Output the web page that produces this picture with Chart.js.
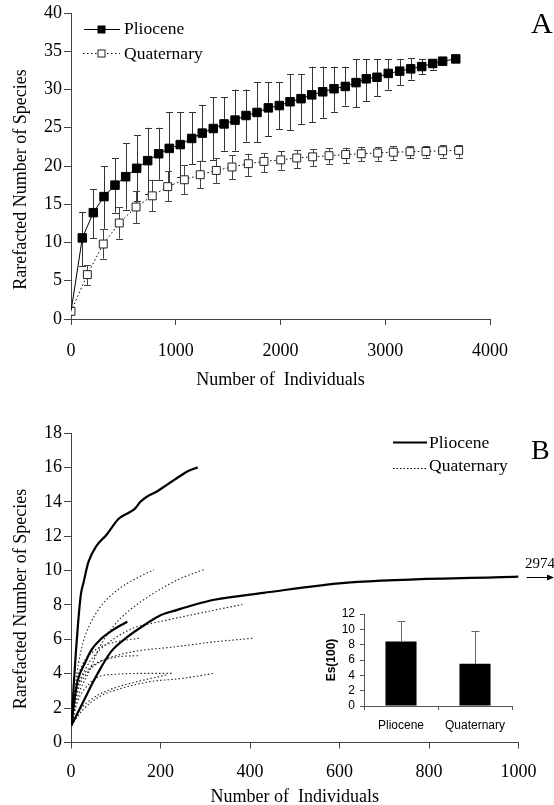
<!DOCTYPE html>
<html><head><meta charset="utf-8">
<script src="https://cdn.jsdelivr.net/npm/chart.js@4.4.1/dist/chart.umd.min.js"></script>
<style>
body{margin:0;background:#fff;}
#wrap{position:relative;width:554px;height:805px;overflow:hidden;font-family:"Liberation Serif",serif;color:#000;background:#fff;}
canvas{position:absolute;}
.t{position:absolute;white-space:nowrap;line-height:1;}
svg{position:absolute;left:0;top:0;}
</style></head><body>
<div id="wrap">
<canvas id="cA" width="554" height="400" style="left:0;top:0"></canvas>
<canvas id="cB" width="554" height="412" style="left:0;top:400px"></canvas>
<canvas id="cI" width="230" height="140" style="left:300px;top:600px"></canvas>
<svg width="554" height="805">
  <line x1="84" y1="29.5" x2="120" y2="29.5" stroke="#000" stroke-width="1"/>
  <rect x="97.5" y="25.5" width="8" height="8" fill="#000"/>
  <line x1="83" y1="53.5" x2="120" y2="53.5" stroke="#000" stroke-width="1" stroke-dasharray="1.5,2.5"/>
  <rect x="98" y="50" width="7" height="7" fill="#fff" stroke="#222" stroke-width="1"/>
  <line x1="393" y1="442.5" x2="427" y2="442.5" stroke="#000" stroke-width="2"/>
  <line x1="393" y1="468.5" x2="427" y2="468.5" stroke="#000" stroke-width="1" stroke-dasharray="1.5,2"/>
</svg>
<div class="t" style="left:124px;top:20.4px;font-size:17.5px">Pliocene</div>
<div class="t" style="left:124px;top:45px;font-size:17.5px">Quaternary</div>
<div class="t" style="left:429px;top:433.6px;font-size:17.5px">Pliocene</div>
<div class="t" style="left:429px;top:457px;font-size:17.5px">Quaternary</div>
<div class="t" style="left:531px;top:8px;font-size:30px">A</div>
<div class="t" style="left:531px;top:436px;font-size:28px">B</div>
<div class="t" style="left:525px;top:555.5px;font-size:15px">2974</div>
</div>
<script>
// ---------- Panel A data ----------
const plioX = [0, 108, 213, 315, 420, 522, 627, 732, 837, 938, 1043, 1152, 1253, 1358, 1461, 1566, 1671, 1776, 1884, 1989, 2091, 2196, 2298, 2403, 2511, 2619, 2721, 2819, 2921, 3029, 3138, 3243, 3348, 3453, 3548, 3673];
const plioY = [1, 10.6, 13.9, 16.0, 17.5, 18.6, 19.7, 20.7, 21.6, 22.3, 22.8, 23.6, 24.3, 24.9, 25.5, 26.0, 26.6, 27.0, 27.6, 27.9, 28.4, 28.8, 29.3, 29.7, 30.1, 30.4, 30.9, 31.4, 31.6, 32.1, 32.4, 32.7, 33.0, 33.4, 33.7, 34.0];
const plioHi = [null, 14, 17, 20, 21, 23, 24, 25, 25, 27, 27, 27, 28, 29, 29, 30, 30, 31, 31, 31, 32, 32, 33, 33, 33, 33, 34, 34, 34, 34, 34, 34.1, 34.0, 33.9, null, null];
const plioLo = [null, 6.9, 10.6, 11.8, 13.9, 14.3, 15.4, 16.4, 18.2, 17.6, 18.6, 20.2, 20.6, 20.8, 22.0, 22.0, 23.2, 23.1, 23.9, 24.8, 24.65, 25.5, 25.7, 26.3, 27.1, 27.9, 27.7, 28.5, 29.1, 30.0, 30.6, 31.3, 32.0, 32.6, null, null];

const quatX = [0, 156, 308, 461, 621, 776, 923, 1082, 1234, 1387, 1537, 1693, 1842, 2002, 2155, 2307, 2463, 2622, 2771, 2928, 3077, 3236, 3389, 3548, 3701];
const quatY = [1, 5.8, 9.8, 12.55, 14.64, 16.1, 17.3, 18.2, 18.86, 19.42, 19.87, 20.3, 20.6, 20.8, 21.05, 21.2, 21.35, 21.5, 21.6, 21.7, 21.8, 21.87, 21.9, 22.0, 22.04];
const quatHi = [null, 7.0, 11.7, 14.6, 16.7, 18.2, 19.3, 20.1, 20.7, 21.0, 21.4, 21.6, 21.7, 21.9, 22.1, 22.2, 22.3, 22.4, 22.5, 22.5, 22.6, 22.6, 22.6, 22.7, 22.7];
const quatLo = [null, 4.4, 7.9, 10.5, 12.5, 14.1, 15.4, 16.3, 17.1, 17.8, 18.3, 18.7, 19.2, 19.5, 19.7, 20.0, 20.3, 20.4, 20.6, 20.7, 20.8, 21.0, 21.1, 21.1, 21.1];

// ---------- Panel B data (individual samples) ----------
const plioCurve1X = [1, 6, 11, 16, 22, 28, 39, 56, 80, 106, 128, 143, 155, 170, 192, 215, 244, 263, 283];
const plioCurve1Y = [1, 3.3, 5.3, 7.0, 8.6, 9.3, 10.5, 11.4, 12.1, 13.0, 13.35, 13.6, 14.0, 14.3, 14.6, 15.0, 15.5, 15.8, 16.0];
const plioCurve2X = [1, 28, 49, 68, 90, 124, 168, 200, 236, 274, 320, 430, 618, 1000];
const plioCurve2Y = [1, 2.4, 3.5, 4.4, 5.3, 6.1, 6.9, 7.4, 7.7, 8.0, 8.3, 8.7, 9.3, 9.65];
const plioCurve3X = [1, 9, 15, 32, 46, 66, 94, 110, 126];
const plioCurve3Y = [1, 2.7, 3.6, 4.67, 5.4, 6.0, 6.55, 6.8, 7.02];

const quatCurve1X = [1, 13, 28, 41, 63, 85, 119, 150, 185];
const quatCurve1Y = [1, 4.0, 5.9, 6.8, 7.8, 8.45, 9.15, 9.6, 10.05];
const quatCurve2X = [1, 13, 39, 65, 95, 122, 167, 212, 250, 297];
const quatCurve2Y = [1, 2.5, 4.05, 5.6, 6.76, 7.5, 8.38, 9.1, 9.6, 10.05];
const quatCurve3X = [1, 13, 35, 65, 100, 138, 197, 286, 383];
const quatCurve3Y = [1, 3.0, 4.4, 5.4, 6.1, 6.64, 7.02, 7.51, 8.03];
const quatCurve4X = [1, 13, 35, 65, 93, 138, 234, 323, 405];
const quatCurve4Y = [1, 2.8, 4.0, 4.7, 4.99, 5.28, 5.57, 5.86, 6.06];
const quatCurve5X = [1, 10, 25, 50, 80, 110, 152];
const quatCurve5Y = [1, 3.2, 4.5, 5.3, 5.7, 5.9, 6.06];
const quatCurve6X = [1, 10, 25, 50, 80, 110, 152];
const quatCurve6Y = [1, 2.8, 3.8, 4.5, 4.85, 5.0, 5.05];
const quatCurve7X = [1, 15, 40, 63, 100, 175, 227];
const quatCurve7Y = [1, 2.4, 3.4, 3.83, 3.97, 4.02, 4.02];
const quatCurve8X = [1, 20, 45, 63, 100, 150, 212];
const quatCurve8Y = [1, 1.9, 2.5, 2.8, 3.2, 3.55, 3.92];
const quatCurve9X = [1, 26, 63, 100, 175, 249, 320];
const quatCurve9Y = [1, 1.89, 2.66, 3.05, 3.53, 3.73, 4.02];

// ---------- Inset data ----------
const esCats = ['Pliocene', 'Quaternary'];
const esVals = [8.4, 5.5];
const esHi = [11.1, 9.8];

// ---------- Tick settings ----------
const axisATicksX = [0, 4000, 1000];
const axisATicksY = [0, 40, 5];
const axisBTicksX = [0, 1000, 200];
const axisBTicksY = [0, 18, 2];
const insetTicksY = [0, 12, 2];

const serif = "'Liberation Serif', 'Times New Roman', serif";
const sans = "'Liberation Sans', Arial, sans-serif";
const pts = (xs, ys) => xs.map((x, i) => ({x, y: ys[i]}));

const errorBarPlugin = {
  id: 'errorBars',
  beforeDatasetsDraw(chart) {
    const {ctx} = chart;
    const xs = chart.scales.x, ys = chart.scales.y;
    const sets = [[plioX, plioHi, plioLo, '#333'], [quatX, quatHi, quatLo, '#444']];
    ctx.save();
    ctx.lineWidth = 1;
    for (const [X, H, L, c] of sets) {
      ctx.strokeStyle = c;
      X.forEach((xv, i) => {
        if (H[i] == null) return;
        const px = Math.round(xs.getPixelForValue(xv)) + 0.5;
        const yt = ys.getPixelForValue(H[i]);
        const yb = ys.getPixelForValue(L[i]);
        ctx.beginPath();
        ctx.moveTo(px, yt); ctx.lineTo(px, yb);
        ctx.moveTo(px - 3.5, Math.round(yt) + 0.5); ctx.lineTo(px + 3.5, Math.round(yt) + 0.5);
        ctx.moveTo(px - 3.5, Math.round(yb) + 0.5); ctx.lineTo(px + 3.5, Math.round(yb) + 0.5);
        ctx.stroke();
      });
    }
    ctx.restore();
  }
};

function scaleOpts(range, fit, isX, title, titlePad, tickPad, tickLen) {
  return {
    type: 'linear', min: range[0], max: range[1],
    afterFit: s => { if (isX) s.height = fit; else s.width = fit; },
    ticks: {stepSize: range[2], color: '#000', font: {family: serif, size: 18}, padding: tickPad, maxRotation: 0, autoSkip: false, callback: v => String(v)},
    grid: {drawOnChartArea: false, tickLength: tickLen, color: '#444', lineWidth: 1},
    border: {color: '#444', width: 1},
    title: {display: true, text: title, color: '#000', font: {family: serif, size: 18}, padding: titlePad}
  };
}

new Chart(document.getElementById('cA'), {
  type: 'scatter',
  data: {datasets: [
    {label: 'Pliocene', data: pts(plioX, plioY), showLine: true, borderColor: '#000', borderWidth: 1,
     pointStyle: 'rect', pointRadius: plioX.map((x, i) => i === 0 ? 0 : 6), pointBackgroundColor: '#000', pointBorderColor: '#000', pointBorderWidth: 1},
    {label: 'Quaternary', data: pts(quatX, quatY), showLine: true, borderColor: '#000', borderWidth: 1, borderDash: [1.5, 2.5],
     pointStyle: 'rect', pointRadius: 5.6, pointBackgroundColor: '#fff', pointBorderColor: '#222', pointBorderWidth: 1}
  ]},
  options: {
    responsive: false, animation: false, events: [],
    layout: {padding: {left: 0, top: 13, right: 64, bottom: 0}},
    plugins: {legend: {display: false}, tooltip: {enabled: false}},
    scales: {
      x: scaleOpts(axisATicksX, 81, true, 'Number of  Individuals', {bottom: 9}, 15, 6),
      y: scaleOpts(axisATicksY, 71, false, 'Rarefacted Number of Species      ', {top: 10}, 2, 7)
    }
  },
  plugins: [errorBarPlugin]
});

const arrowPlugin = {
  id: 'arrow',
  afterDraw(chart) {
    const {ctx, chartArea} = chart;
    const y = Math.round(chart.scales.y.getPixelForValue(plioCurve2Y[plioCurve2Y.length - 1])) + 0.5;
    const x0 = chartArea.right + 8, x1 = 554;
    ctx.save();
    ctx.strokeStyle = '#000'; ctx.fillStyle = '#000'; ctx.lineWidth = 1;
    ctx.beginPath(); ctx.moveTo(x0, y); ctx.lineTo(x1 - 5, y); ctx.stroke();
    ctx.beginPath(); ctx.moveTo(x1, y); ctx.lineTo(x1 - 7, y - 3); ctx.lineTo(x1 - 7, y + 3); ctx.closePath(); ctx.fill();
    ctx.restore();
  }
};

const plioStyle = {showLine: true, borderColor: '#000', borderWidth: 2.2, pointRadius: 0, cubicInterpolationMode: 'monotone'};
const quatStyle = {showLine: true, borderColor: '#222', borderWidth: 1.1, borderDash: [1.5, 2.2], pointRadius: 0, cubicInterpolationMode: 'monotone'};

new Chart(document.getElementById('cB'), {
  type: 'scatter',
  data: {datasets: [
    Object.assign({label: 'Pliocene 1', data: pts(plioCurve1X, plioCurve1Y)}, plioStyle),
    Object.assign({label: 'Pliocene 2', data: pts(plioCurve2X, plioCurve2Y)}, plioStyle),
    Object.assign({label: 'Pliocene 3', data: pts(plioCurve3X, plioCurve3Y)}, plioStyle),
    Object.assign({label: 'Quaternary 1', data: pts(quatCurve1X, quatCurve1Y)}, quatStyle),
    Object.assign({label: 'Quaternary 2', data: pts(quatCurve2X, quatCurve2Y)}, quatStyle),
    Object.assign({label: 'Quaternary 3', data: pts(quatCurve3X, quatCurve3Y)}, quatStyle),
    Object.assign({label: 'Quaternary 4', data: pts(quatCurve4X, quatCurve4Y)}, quatStyle),
    Object.assign({label: 'Quaternary 5', data: pts(quatCurve5X, quatCurve5Y)}, quatStyle),
    Object.assign({label: 'Quaternary 6', data: pts(quatCurve6X, quatCurve6Y)}, quatStyle),
    Object.assign({label: 'Quaternary 7', data: pts(quatCurve7X, quatCurve7Y)}, quatStyle),
    Object.assign({label: 'Quaternary 8', data: pts(quatCurve8X, quatCurve8Y)}, quatStyle),
    Object.assign({label: 'Quaternary 9', data: pts(quatCurve9X, quatCurve9Y)}, quatStyle)
  ]},
  options: {
    responsive: false, animation: false, events: [],
    layout: {padding: {left: 0, top: 33, right: 35.5, bottom: 0}},
    plugins: {legend: {display: false}, tooltip: {enabled: false}},
    scales: {
      x: scaleOpts(axisBTicksX, 69.5, true, 'Number of  Individuals', {bottom: 4}, 13, 6),
      y: scaleOpts(axisBTicksY, 71, false, 'Rarefacted Number of Species     ', {top: 10}, 2, 7)
    }
  },
  plugins: [arrowPlugin]
});

const insetErrPlugin = {
  id: 'insetErr',
  afterDatasetsDraw(chart) {
    const {ctx} = chart;
    const meta = chart.getDatasetMeta(0);
    const ys = chart.scales.y;
    ctx.save();
    ctx.strokeStyle = '#666'; ctx.lineWidth = 1;
    meta.data.forEach((bar, i) => {
      const px = Math.round(bar.x) + 0.5;
      const yt = Math.round(ys.getPixelForValue(esHi[i])) + 0.5;
      const yb = ys.getPixelForValue(esVals[i]);
      ctx.beginPath();
      ctx.moveTo(px, yb); ctx.lineTo(px, yt);
      ctx.moveTo(px - 4, yt); ctx.lineTo(px + 4, yt);
      ctx.stroke();
    });
    ctx.restore();
  }
};

new Chart(document.getElementById('cI'), {
  type: 'bar',
  data: {labels: esCats, datasets: [{data: esVals, backgroundColor: '#000', borderWidth: 0, barPercentage: 0.42, categoryPercentage: 1}]},
  options: {
    responsive: false, animation: false, events: [],
    layout: {padding: {left: 0, top: 14, right: 18, bottom: 0}},
    plugins: {legend: {display: false}, tooltip: {enabled: false}},
    scales: {
      x: {afterFit: s => { s.height = 34; },
          ticks: {color: '#000', font: {family: sans, size: 12}, padding: 8},
          grid: {drawOnChartArea: false, offset: true, tickLength: 4, color: '#555'},
          border: {color: '#555'}},
      y: {min: insetTicksY[0], max: insetTicksY[1], afterFit: s => { s.width = 64; },
          ticks: {stepSize: insetTicksY[2], autoSkip: false, color: '#000', font: {family: sans, size: 12}, padding: 5},
          grid: {drawOnChartArea: false, tickLength: 4, color: '#555'},
          border: {color: '#555'},
          title: {display: true, text: 'Es(100)', color: '#000', font: {family: sans, size: 12, weight: 'bold'}, padding: {top: 24}}}
    }
  },
  plugins: [insetErrPlugin]
});
</script>
</body></html>
